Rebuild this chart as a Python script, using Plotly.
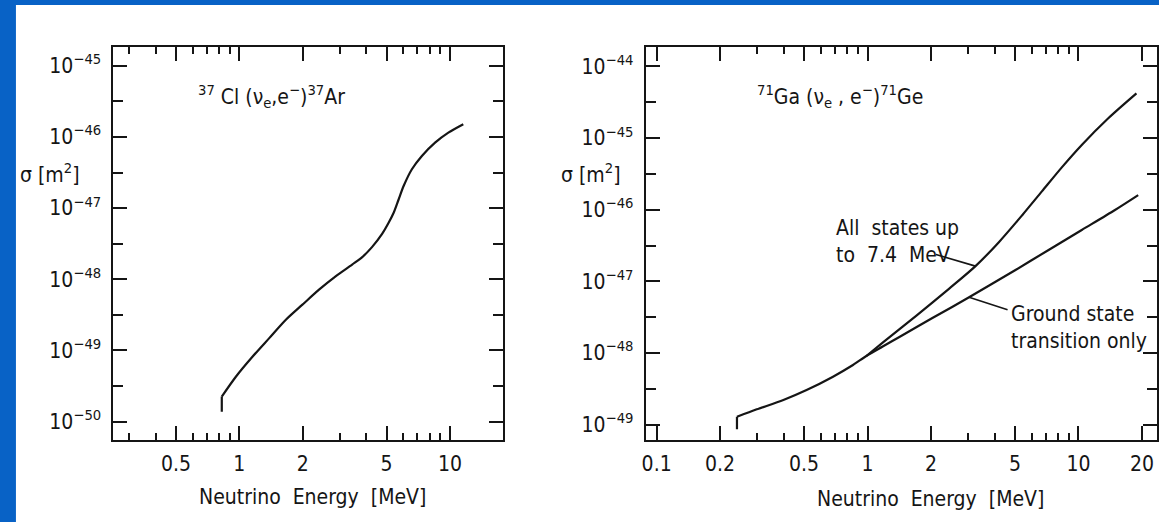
import math
import plotly.graph_objects as go

W, H = 1159, 522

# ---------------- data ----------------
# 37Cl(nu_e, e-)37Ar cross section  [MeV], [m^2]
cl_energy = [0.825, 0.964, 1.156, 1.386, 1.662, 1.992, 2.388, 2.862, 3.43, 3.83,
             4.27, 4.75, 5.11, 5.40, 5.70, 6.02, 6.59, 7.35, 8.49, 9.82, 11.56]
cl_sigma = [2.25e-50, 4.31e-50, 8.22e-50, 1.49e-49, 2.70e-49, 4.40e-49, 7.14e-49,
            1.10e-48, 1.61e-48, 2.05e-48, 2.85e-48, 4.30e-48, 6.21e-48, 8.59e-48,
            1.32e-47, 2.04e-47, 3.51e-47, 5.40e-47, 8.32e-47, 1.15e-46, 1.51e-46]
cl_threshold_energy = [0.825, 0.825]
cl_threshold_sigma = [1.38e-50, 2.25e-50]

# 71Ga(nu_e, e-)71Ge cross section
ga_threshold_energy = [0.2404, 0.2404]
ga_threshold_sigma = [8.59e-50, 1.285e-49]
ga_common_energy = [0.2404, 0.2985, 0.399, 0.514, 0.686, 0.853, 0.987]
ga_common_sigma = [1.285e-49, 1.63e-49, 2.20e-49, 3.03e-49, 4.66e-49, 6.78e-49, 9.06e-49]
ga_ground_energy = [1.18, 1.416, 2.03, 3.03, 5.03, 7.22, 10.37, 14.9, 19.2]
ga_ground_sigma = [1.23e-48, 1.67e-48, 3.07e-48, 5.98e-48, 1.44e-47, 2.74e-47,
                   5.21e-47, 9.91e-47, 1.60e-46]
ga_all_energy = [1.18, 1.70, 2.44, 3.25, 4.195, 5.40, 6.71, 8.34, 10.37, 13.85, 18.84]
ga_all_sigma = [1.39e-48, 3.29e-48, 7.91e-48, 1.63e-47, 3.52e-47, 8.32e-47,
                1.80e-46, 3.90e-46, 8.02e-46, 1.89e-45, 4.21e-45]

# tick labels
cl_x_ticks = [0.5, 1, 2, 5, 10]
cl_x_ticktext = ["0.5", "1", "2", "5", "10"]
ga_x_ticks = [0.1, 0.2, 0.5, 1, 2, 5, 10, 20]
ga_x_ticktext = ["0.1", "0.2", "0.5", "1", "2", "5", "10", "20"]
x_minor_ticks = [0.3, 0.4, 0.6, 0.7, 0.8, 0.9, 3, 4, 6, 7, 8, 9]
cl_y_exponents = [-50, -49, -48, -47, -46, -45]
ga_y_exponents = [-49, -48, -47, -46, -45, -44]

cl_title = "<sup>37</sup> Cl (ν<sub>e</sub>,e<sup>−</sup>)<sup>37</sup>Ar"
ga_title = "<sup>71</sup>Ga (ν<sub>e</sub> , e<sup>−</sup>)<sup>71</sup>Ge"
x_title = "Neutrino  Energy  [MeV]"
y_title = "σ [m<sup>2</sup>]"
all_label = "All  states up<br>to  7.4  MeV"
ground_label = "Ground state<br>transition only"

# ---------------- styling ----------------
FONT = "DejaVu Sans Condensed, DejaVu Sans, sans-serif"
INK = "#151515"
BLUE = "#0862c6"
LW = 2.2

fig = go.Figure()


def curve(x, y, xa, ya, spline=True):
    fig.add_trace(go.Scatter(
        x=x, y=y, mode="lines", xaxis=xa, yaxis=ya, hoverinfo="skip",
        line=dict(color=INK, width=LW, shape="spline" if spline else "linear",
                  smoothing=0.8),
        showlegend=False))


curve(cl_threshold_energy, cl_threshold_sigma, "x", "y", spline=False)
curve(cl_energy, cl_sigma, "x", "y")
curve(ga_threshold_energy, ga_threshold_sigma, "x2", "y2", spline=False)
curve(ga_common_energy + ga_ground_energy, ga_common_sigma + ga_ground_sigma, "x2", "y2")
curve(ga_common_energy[-1:] + ga_all_energy, ga_common_sigma[-1:] + ga_all_sigma, "x2", "y2")


def xaxis_style(domain, rng, ticks, ticktext, anchor):
    return dict(
        type="log", domain=domain, range=rng, anchor=anchor,
        showline=True, linecolor=INK, linewidth=2, mirror="ticks",
        ticks="inside", ticklen=14, tickwidth=1.7, tickcolor=INK,
        tickmode="array", tickvals=ticks, ticktext=ticktext,
        showgrid=False, zeroline=False, fixedrange=True,
        tickfont=dict(family=FONT, size=21, color=INK), ticklabelstandoff=4,
        minor=dict(tickmode="array", tickvals=x_minor_ticks, ticks="inside",
                   ticklen=7, tickwidth=1.7, tickcolor=INK, showgrid=False),
    )


def yaxis_style(domain, rng, exps, anchor):
    return dict(
        type="log", domain=domain, range=rng, anchor=anchor,
        showline=True, linecolor=INK, linewidth=2, mirror="ticks",
        ticks="inside", ticklen=14, tickwidth=1.7, tickcolor=INK,
        tickmode="array", tickvals=[10.0 ** e for e in exps],
        ticktext=["10<sup>−%d</sup>" % (-e) for e in exps],
        showgrid=False, zeroline=False, fixedrange=True,
        tickfont=dict(family=FONT, size=21, color=INK), ticklabelstandoff=6,
        minor=dict(tickmode="array", tickvals=[10.0 ** (e + 0.5) for e in exps[:-1]],
                   ticks="inside", ticklen=10, tickwidth=1.7, tickcolor=INK,
                   showgrid=False),
    )


ydom = [(H - 440) / H, (H - 47) / H]

fig.update_layout(
    width=W, height=H, margin=dict(l=0, r=0, t=0, b=0),
    paper_bgcolor=BLUE, plot_bgcolor="white",
    font=dict(family=FONT, color=INK),
    xaxis=xaxis_style([110 / W, 501.5 / W], [-0.598, 1.251], cl_x_ticks, cl_x_ticktext, "y"),
    yaxis=yaxis_style(ydom, [-50.258, -44.737], cl_y_exponents, "x"),
    xaxis2=xaxis_style([645 / W, 1.0], [-1.052, 1.3725], ga_x_ticks, ga_x_ticktext, "y2"),
    yaxis2=yaxis_style(ydom, [-49.216, -43.728], ga_y_exponents, "x2"),
    shapes=[dict(type="rect", xref="paper", yref="paper", x0=12 / W, x1=1.01,
                 y0=-0.01, y1=(H - 5) / H, fillcolor="white", line=dict(width=0),
                 layer="below")],
)


def px_note(text, px, py, xanchor="left", size=21, align="left"):
    fig.add_annotation(text=text, xref="paper", yref="paper", x=px / W, y=1 - py / H,
                       xanchor=xanchor, yanchor="middle", showarrow=False, align=align,
                       font=dict(family=FONT, size=size, color=INK))


px_note(cl_title, 193, 96)
px_note(ga_title, 755, 96)
px_note(x_title, 310, 497, xanchor="center")
px_note(x_title, 931, 499, xanchor="center")
px_note(y_title, 14, 173)
px_note(y_title, 558, 173)
px_note(all_label, 834, 241)
px_note(ground_label, 1010, 327)

# leader lines from labels to the curves
fig.add_annotation(x=math.log10(ga_all_energy[3]), y=math.log10(ga_all_sigma[3]),
                   xref="x2", yref="y2", text="", showarrow=True, arrowhead=0,
                   arrowwidth=1.6, arrowcolor=INK, ax=-41, ay=-12,
                   font=dict(size=1))
fig.add_annotation(x=math.log10(ga_ground_energy[3]), y=math.log10(ga_ground_sigma[3]),
                   xref="x2", yref="y2", text="", showarrow=True, arrowhead=0,
                   arrowwidth=1.6, arrowcolor=INK, ax=40, ay=13,
                   font=dict(size=1))

fig.write_html(
    "out.html",
    config={"displayModeBar": False},
    post_script="document.body.style.margin='0px';document.body.style.overflow='hidden';"
                "document.body.style.background='%s';" % BLUE,
)
